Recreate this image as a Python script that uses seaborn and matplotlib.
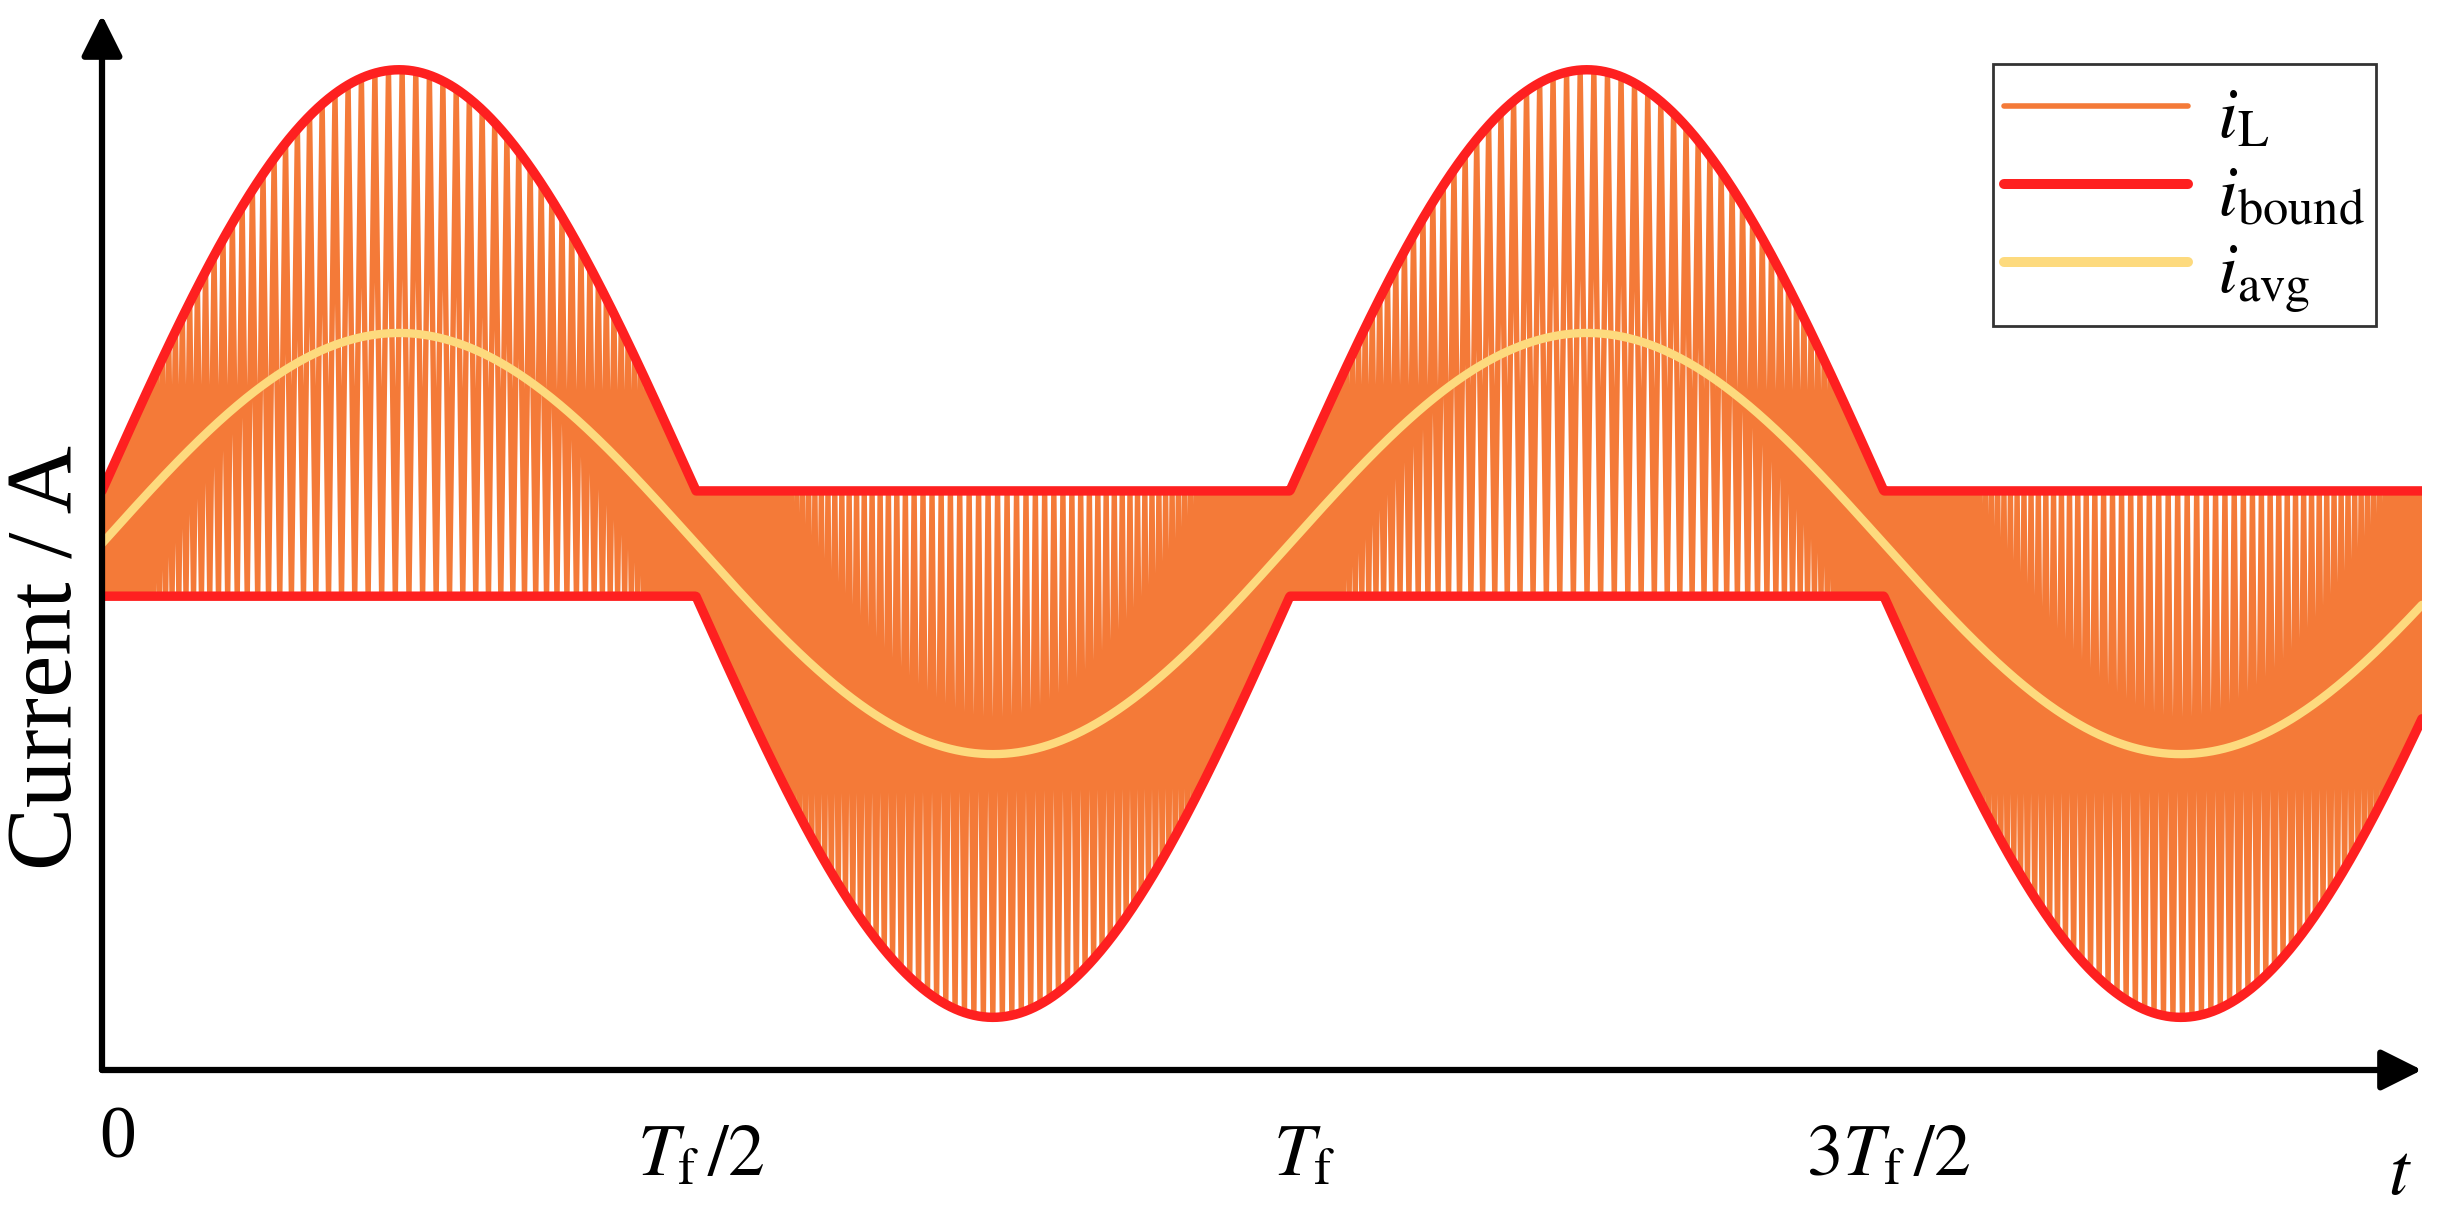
import numpy as np
import pandas as pd
import matplotlib.pyplot as plt
import seaborn as sns
from matplotlib.lines import Line2D
from matplotlib.transforms import blended_transform_factory


# waveform values (current in A, time in units of T_f)

t_end = 1.953
avg_amp = 1.0            # peak of i_avg
bound_amp = 2.0          # extra swing of i_bound in its active half cycle
bound_offset = 0.25      # flat level of i_bound
switch_gain_pos = 0.0046 # switching period per A of band, positive half cycle
switch_gain_neg = 0.0032 # same, negative half cycle

tick_pos = [0.508, 1.013, 1.520]
label_pos = [0.013, 0.504, 1.012, 1.504]
tick_labels = ["0", r"$T_{\mathrm{f}}\,/2$", r"$T_{\mathrm{f}}$", r"$3T_{\mathrm{f}}\,/2$"]
legend_labels = [r"$i_{\mathrm{L}}$", r"$i_{\mathrm{bound}}$", r"$i_{\mathrm{avg}}$"]

c_il = "#F47A38"
c_bound = "#FE2020"
c_avg = "#FDDA7E"


def bounds(t):
    s = np.sin(2 * np.pi * t)
    upper = bound_offset + bound_amp * np.clip(s, 0, None)
    lower = -bound_offset + bound_amp * np.clip(s, None, 0)
    return upper, lower


# smooth curves
t = np.linspace(0, t_end, 3000)
up, lo = bounds(t)
curves = pd.DataFrame({"t": t, "upper": up, "lower": lo,
                       "avg": avg_amp * np.sin(2 * np.pi * t)})

# inductor current bouncing between the bounds
t_sw = [0.0]
i_sw = [bounds(0.0)[1]]
rising = True
while t_sw[-1] < t_end:
    tc = t_sw[-1]
    u, l = bounds(tc)
    gain = switch_gain_pos if np.sin(2 * np.pi * tc) >= 0 else switch_gain_neg
    tn = tc + gain * (u - l) / 2
    u, l = bounds(tn)
    t_sw.append(tn)
    i_sw.append(u if rising else l)
    rising = not rising
il = pd.DataFrame({"t": t_sw, "i": i_sw})


# plot

sns.set_style("white")
plt.rcParams["font.family"] = ["Liberation Serif", "DejaVu Serif"]
plt.rcParams["mathtext.fontset"] = "stix"
plt.rcParams["text.color"] = "black"

fig = plt.figure(figsize=(24.43, 12.15), dpi=100)
ax = fig.add_axes([102 / 2443, 145 / 1215, 2320 / 2443, 1055 / 1215])

sns.lineplot(data=il, x="t", y="i", sort=False, estimator=None,
             color=c_il, lw=3.9, ax=ax, zorder=1)
sns.lineplot(data=curves, x="t", y="upper", sort=False, estimator=None,
             color=c_bound, lw=6.8, ax=ax, zorder=2)
sns.lineplot(data=curves, x="t", y="lower", sort=False, estimator=None,
             color=c_bound, lw=6.8, ax=ax, zorder=2)
sns.lineplot(data=curves, x="t", y="avg", sort=False, estimator=None,
             color=c_avg, lw=6.0, ax=ax, zorder=3)

ax.set_xlim(0, t_end)
ax.set_ylim(-2.5, 2.51)
sns.despine(ax=ax, left=True, bottom=True)
ax.set_xlabel("")
ax.set_ylabel("")
ax.set_yticks([])
ax.set_xticks(tick_pos)
ax.set_xticklabels([])
ax.tick_params(axis="x", direction="in", length=19, width=2, color="#222222")

arrow_kw = dict(arrowstyle="-|>,head_length=1.0,head_width=0.5", lw=4.5,
                color="black", mutation_scale=25, shrinkA=0, shrinkB=0)
ax.annotate("", xy=(1, 0), xytext=(0, 0), xycoords="axes fraction",
            arrowprops=arrow_kw, zorder=5)
ax.annotate("", xy=(0, 1), xytext=(0, 0), xycoords="axes fraction",
            arrowprops=arrow_kw, zorder=5)

trans = blended_transform_factory(ax.transData, ax.transAxes)
for x, lab in zip(label_pos, tick_labels):
    yb = -0.0825 if lab == "0" else -0.0995
    ax.text(x, yb, lab, transform=trans, ha="center", va="baseline", fontsize=53)
ax.text(0.9905, -0.118, "$t$", transform=ax.transAxes, ha="center",
        va="baseline", fontsize=53)

fig.text(49 / 2443, 1 - 657 / 1215, "Current / A", rotation=90,
         ha="center", va="center", fontsize=68)

handles = [Line2D([], [], color=c_il, lw=4, solid_capstyle="round"),
           Line2D([], [], color=c_bound, lw=7.2, solid_capstyle="round"),
           Line2D([], [], color=c_avg, lw=7.2, solid_capstyle="round")]
leg = ax.legend(handles, legend_labels, loc="upper right",
                bbox_to_anchor=(2376 / 2443, 1 - 64 / 1215),
                bbox_transform=fig.transFigure, borderaxespad=0,
                frameon=True, fancybox=False, edgecolor="#333333",
                framealpha=1, fontsize=52, handlelength=2.55,
                handleheight=1.26, handletextpad=0.4, borderpad=0.15,
                labelspacing=0.0)
leg.get_frame().set_linewidth(2)

plt.savefig("out.png", dpi=100)
plt.close()
